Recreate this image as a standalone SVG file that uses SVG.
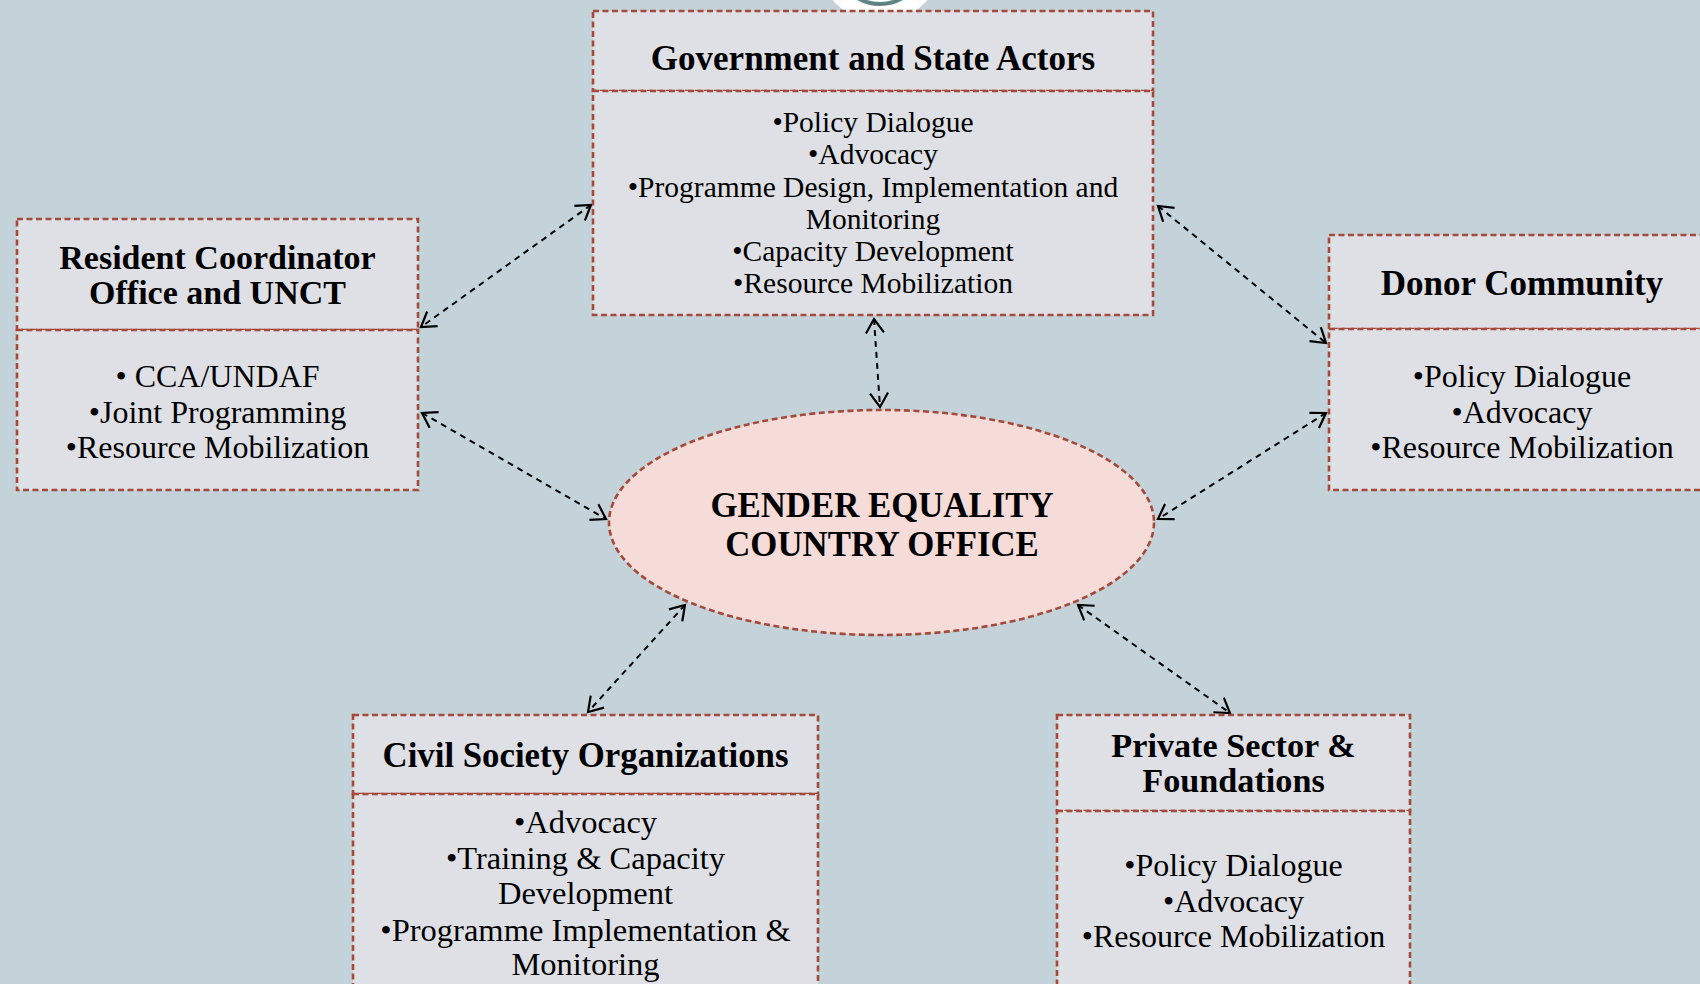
<svg xmlns="http://www.w3.org/2000/svg" width="1700" height="984" viewBox="0 0 1700 984">
<style>
.bg{fill:#c4d3d9}
.box{fill:#dfe0e5;stroke:#a5493a;stroke-width:2.6;stroke-dasharray:6 3.5}
.ell{fill:#f6dcd8;stroke:#a5493a;stroke-width:2.6;stroke-dasharray:6 3.5}
.t{font-family:"Liberation Serif","Times New Roman",serif;font-weight:bold;fill:#000;text-anchor:middle}
.b{font-family:"Liberation Serif","Times New Roman",serif;fill:#000;text-anchor:middle}
.c{fill:none;stroke:#000;stroke-width:2;stroke-dasharray:6 5;marker-start:url(#ah);marker-end:url(#ah)}
</style>
<defs>
<marker id="ah" markerUnits="userSpaceOnUse" markerWidth="20" markerHeight="20" refX="16" refY="10" orient="auto-start-reverse" overflow="visible">
<path d="M2,1 L16,10 L2,19" fill="none" stroke="#000" stroke-width="2.2"/>
</marker>
</defs>
<rect class="bg" x="0" y="0" width="1700" height="984"/>
<g id="top-ornament">
<circle cx="880" cy="-40" r="62" fill="#ffffff"/>
<circle cx="880" cy="-40" r="44" fill="none" stroke="#5d8485" stroke-width="4"/>
</g>
<g id="connectors">
<line class="c" x1="591" y1="205" x2="421" y2="327"/>
<line class="c" x1="1158" y1="206" x2="1326" y2="343"/>
<line class="c" x1="874" y1="319" x2="880" y2="407"/>
<line class="c" x1="422" y1="413" x2="606" y2="519"/>
<line class="c" x1="1326" y1="413" x2="1158" y2="519"/>
<line class="c" x1="685" y1="605" x2="588" y2="712"/>
<line class="c" x1="1078" y1="605" x2="1230" y2="713"/>
</g>
<g id="government">
<rect class="box" x="593" y="11" width="560" height="80"/>
<rect class="box" x="593" y="91" width="560" height="224"/>
<text class="t" x="873" y="70" font-size="35">Government and State Actors</text>
<g class="b" font-size="29.5">
<text x="873" y="132">•Policy Dialogue</text>
<text x="873" y="164">•Advocacy</text>
<text x="873" y="196.5">•Programme Design, Implementation and</text>
<text x="873" y="228.5">Monitoring</text>
<text x="873" y="261">•Capacity Development</text>
<text x="873" y="293">•Resource Mobilization</text>
</g>
</g>
<g id="resident">
<rect class="box" x="17" y="219" width="401" height="111"/>
<rect class="box" x="17" y="330" width="401" height="160"/>
<text class="t" font-size="34"><tspan x="217.5" y="268.5">Resident Coordinator</tspan><tspan x="217.5" y="304">Office and UNCT</tspan></text>
<g class="b" font-size="32">
<text x="217.5" y="387">• CCA/UNDAF</text>
<text x="217.5" y="423">•Joint Programming</text>
<text x="217.5" y="458">•Resource Mobilization</text>
</g>
</g>
<g id="donor">
<rect class="box" x="1329" y="235" width="390" height="94"/>
<rect class="box" x="1329" y="329" width="390" height="161"/>
<text class="t" x="1522" y="295" font-size="35">Donor Community</text>
<g class="b" font-size="32">
<text x="1522" y="387">•Policy Dialogue</text>
<text x="1522" y="423">•Advocacy</text>
<text x="1522" y="458">•Resource Mobilization</text>
</g>
</g>
<g id="gender-equality">
<ellipse class="ell" cx="881.5" cy="522.5" rx="272.5" ry="112.5"/>
<text class="t" font-size="34.8"><tspan x="882" y="517">GENDER EQUALITY</tspan><tspan x="882" y="556">COUNTRY OFFICE</tspan></text>
</g>
<g id="civil-society">
<rect class="box" x="353" y="715" width="465" height="79"/>
<rect class="box" x="353" y="794" width="465" height="250"/>
<text class="t" x="585.5" y="767" font-size="34.8">Civil Society Organizations</text>
<g class="b" font-size="32.5">
<text x="585.5" y="833">•Advocacy</text>
<text x="585.5" y="869">•Training &amp; Capacity</text>
<text x="585.5" y="904">Development</text>
<text x="585.5" y="940.5">•Programme Implementation &amp;</text>
<text x="585.5" y="975">Monitoring</text>
</g>
</g>
<g id="private-sector">
<rect class="box" x="1057" y="715" width="353" height="96"/>
<rect class="box" x="1057" y="811" width="353" height="233"/>
<text class="t" font-size="34.2"><tspan x="1233.5" y="757">Private Sector &amp;</tspan><tspan x="1233.5" y="792">Foundations</tspan></text>
<g class="b" font-size="32">
<text x="1233.5" y="876">•Policy Dialogue</text>
<text x="1233.5" y="911.5">•Advocacy</text>
<text x="1233.5" y="946.5">•Resource Mobilization</text>
</g>
</g>
</svg>
